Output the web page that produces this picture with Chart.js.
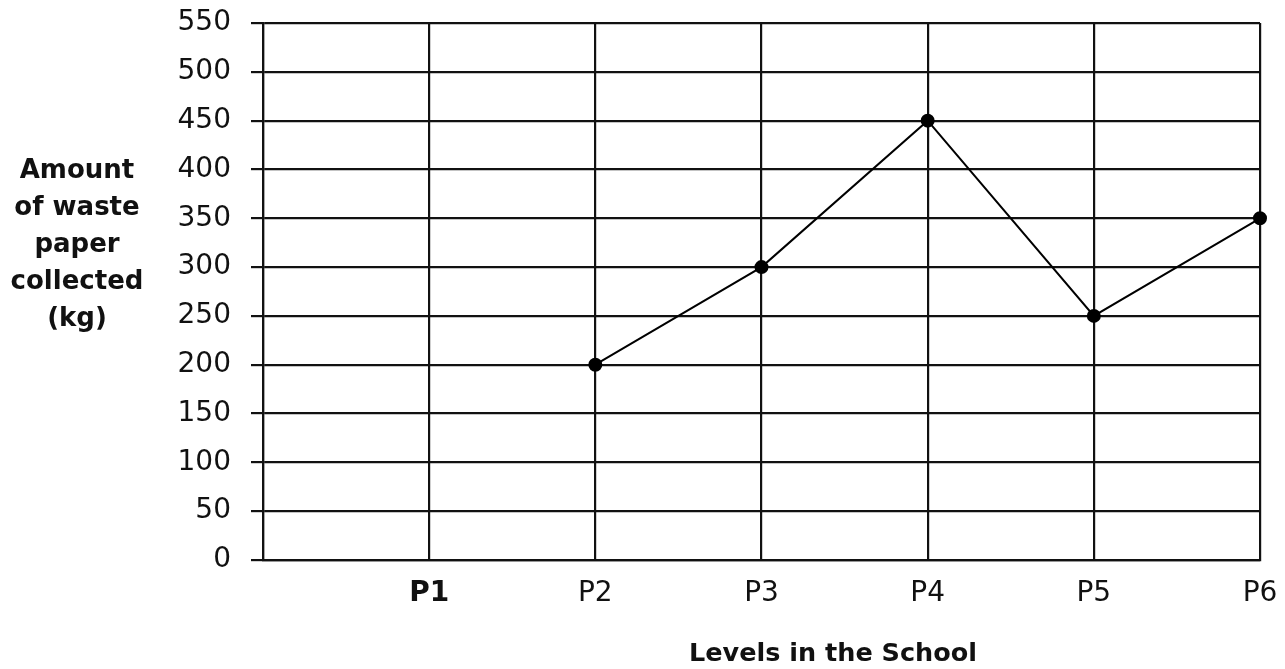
<!DOCTYPE html>
<html>
<head>
<meta charset="utf-8">
<script src="https://cdn.jsdelivr.net/npm/chart.js@4.4.1/dist/chart.umd.min.js"></script>
<style>
  html, body { margin: 0; padding: 0; background: #fff; }
  #wrap { width: 1285px; height: 669px; position: relative; }
</style>
</head>
<body>
<div id="wrap"><canvas id="wastePlot"></canvas></div>
<script>
// levels (index 0 is the empty slot at the y axis)
const levels = ['', 'P1', 'P2', 'P3', 'P4', 'P5', 'P6']
// kg of waste paper per level, P1 not plotted
const wasteKg = [null, null, 200, 300, 450, 250, 350]
const yTitleLines = ['Amount', 'of waste', 'paper', 'collected', '(kg)']
const xTitle = 'Levels in the School'

const FONT = "'DejaVu Sans', sans-serif"
const INK = '#111'

// axis titles drawn straight onto the canvas
const titlesPlugin = {
    id: 'titles',
    afterDraw(chart) {
        const ctx = chart.ctx
        ctx.save()
        ctx.fillStyle = INK
        ctx.textAlign = 'center'
        ctx.textBaseline = 'middle'
        ctx.font = 'bold 26px ' + FONT
        yTitleLines.forEach((line, i) => {
            ctx.fillText(line, 77, 171 + i * 37)
        })
        ctx.font = 'bold 25.5px ' + FONT
        ctx.fillText(xTitle, 833, 654)
        ctx.restore()
    }
}

new Chart(document.getElementById('wastePlot'), {
    type: 'line',
    data: {
        labels: levels,
        datasets: [{
            data: wasteKg,
            borderColor: '#000',
            borderWidth: 2,
            pointBackgroundColor: '#000',
            pointBorderColor: '#000',
            pointRadius: 6,
            fill: false,
            tension: 0,
            clip: false
        }]
    },
    options: {
        responsive: true,
        maintainAspectRatio: false,
        animation: false,
        layout: { padding: { top: 23, right: 25, left: 0, bottom: 0 } },
        plugins: {
            legend: { display: false },
            tooltip: { enabled: false }
        },
        scales: {
            x: {
                type: 'category',
                offset: false,
                afterFit: scale => {
                    scale.height = 109
                    scale.paddingLeft = 0
                    scale.paddingRight = 0
                },
                grid: { color: INK, lineWidth: 2.2, drawTicks: false },
                border: { color: INK, width: 2.2 },
                ticks: {
                    color: INK,
                    padding: 17,
                    maxRotation: 0,
                    autoSkip: false,
                    font: c => ({ family: FONT, size: 28, weight: c.index === 1 ? 'bold' : 'normal' })
                }
            },
            y: {
                min: 0,
                max: 550,
                afterFit: scale => {
                    scale.width = 263
                    scale.paddingTop = 0
                    scale.paddingBottom = 0
                },
                grid: { color: INK, lineWidth: 2.2, tickLength: 12 },
                border: { color: INK, width: 2.2 },
                ticks: {
                    stepSize: 50,
                    color: INK,
                    padding: 20,
                    font: { family: FONT, size: 28 }
                }
            }
        }
    },
    plugins: [titlesPlugin]
})
</script>
</body>
</html>
